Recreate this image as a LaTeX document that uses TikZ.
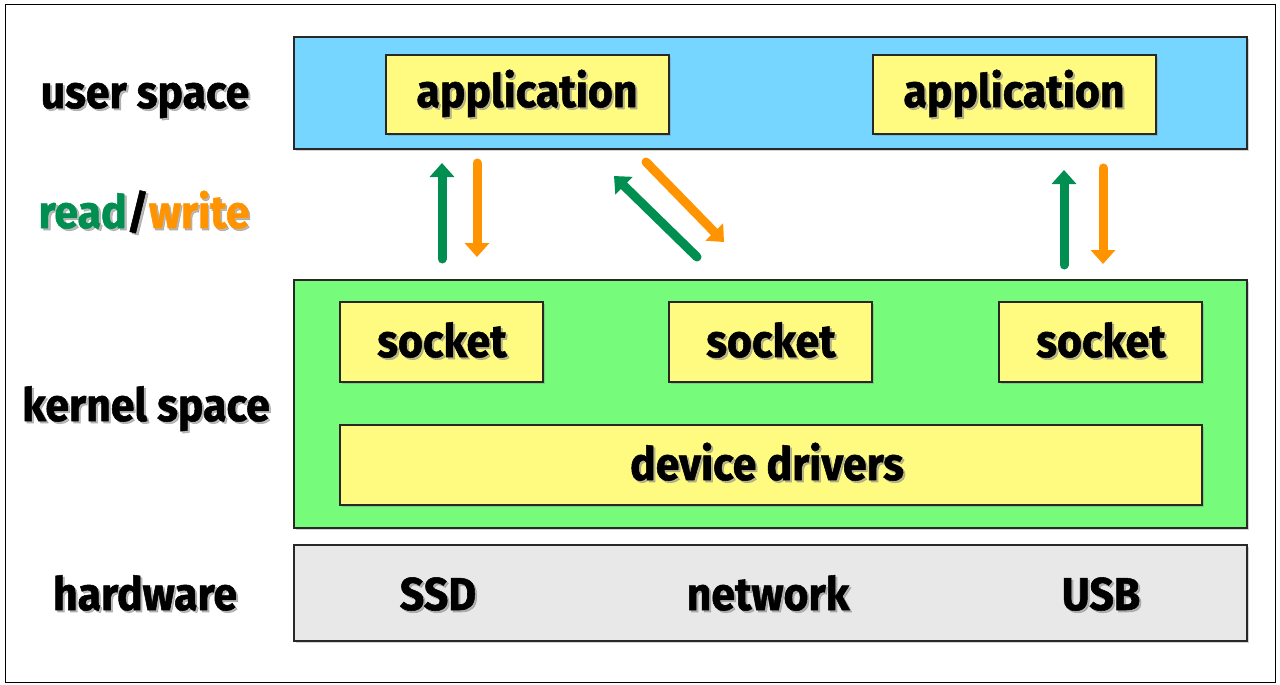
\documentclass[tikz,border=0pt]{standalone}
\usepackage{fontspec}
\usetikzlibrary{arrows.meta,shadows}
\newfontfamily\hand[FakeStretch=0.93,FakeBold=1.2]{Fira Sans}
\definecolor{ublue}{RGB}{118,214,255}
\definecolor{kgreen}{RGB}{118,251,123}
\definecolor{byellow}{RGB}{255,250,128}
\definecolor{hgray}{RGB}{232,232,232}
\definecolor{rgreen}{RGB}{0,143,81}
\definecolor{worange}{RGB}{255,147,0}
\definecolor{edge}{RGB}{40,40,40}
\tikzset{
  layer/.style={draw=edge, line width=1.2pt, drop shadow={shadow xshift=2pt, shadow yshift=-2pt, opacity=0.35}},
  ybox/.style={layer, fill=byellow},
  txt/.style={anchor=base, inner sep=0pt, font=\hand\bfseries\fontsize{46}{52}\selectfont},
  txtsh/.style={txt, text=black!45, opacity=0.6},
  rarrow/.style={line width=9pt, line cap=round, draw=rgreen, -{Triangle[width=24pt,length=14pt]}},
  warrow/.style={line width=9pt, line cap=round, draw=worange, -{Triangle[width=24pt,length=14pt]}},
}
\newcommand{\lbl}[4]{%
  \node[txtsh] at (#2+2,#3+2) {#4};
  \node[txt] (#1) at (#2,#3) {#4};}
\begin{document}
\begin{tikzpicture}[x=1pt,y=-1pt]
\useasboundingbox (0,0) rectangle (1280,685);
\draw[line width=1pt] (5,4.5) rectangle (1275.5,682.5);
% layers
\draw[layer, fill=ublue] (294,37) rectangle (1247,149);
\draw[layer, fill=kgreen] (294,280) rectangle (1247,528);
\draw[layer, fill=hgray] (294,545) rectangle (1247,641);
% boxes
\draw[ybox] (386,55) rectangle (669,134);
\draw[ybox] (873,55) rectangle (1156,134);
\draw[ybox] (340,302) rectangle (543,382);
\draw[ybox] (669,302) rectangle (872,382);
\draw[ybox] (999,302) rectangle (1202,382);
\draw[ybox] (340,425) rectangle (1202,505);
% texts
\lbl{us}{145}{108}{user space}
\node[txtsh] at (146,230) {read/write};
\node[txt] (rw) at (144,228) {\textcolor{rgreen}{read}/\textcolor{worange}{write}};
\lbl{ks}{146}{421}{kernel space}
\lbl{hw}{145}{610}{hardware}
\lbl{app1}{527}{107}{application}
\lbl{app2}{1014}{107}{application}
\lbl{s1}{442}{357}{socket}
\lbl{s2}{771}{357}{socket}
\lbl{s3}{1101}{357}{socket}
\lbl{dd}{767}{480}{device drivers}
\lbl{ssd}{438}{610}{SSD}
\lbl{net}{768}{610}{network}
\lbl{usb}{1101}{610}{USB}
% arrow end points
\coordinate (g1a) at (442,259); \coordinate (g1b) at (442,163);
\coordinate (o1a) at (477,163); \coordinate (o1b) at (477,257);
\coordinate (g2a) at (697,257); \coordinate (g2b) at (614,176);
\coordinate (o2a) at (646,162); \coordinate (o2b) at (724,242);
\coordinate (g3a) at (1064,265); \coordinate (g3b) at (1064,170);
\coordinate (o3a) at (1103,168); \coordinate (o3b) at (1103,264);
\draw[rarrow] (g1a) -- (g1b);
\draw[warrow] (o1a) -- (o1b);
\draw[rarrow] (g2a) -- (g2b);
\draw[warrow] (o2a) -- (o2b);
\draw[rarrow] (g3a) -- (g3b);
\draw[warrow] (o3a) -- (o3b);
\end{tikzpicture}
\end{document}
